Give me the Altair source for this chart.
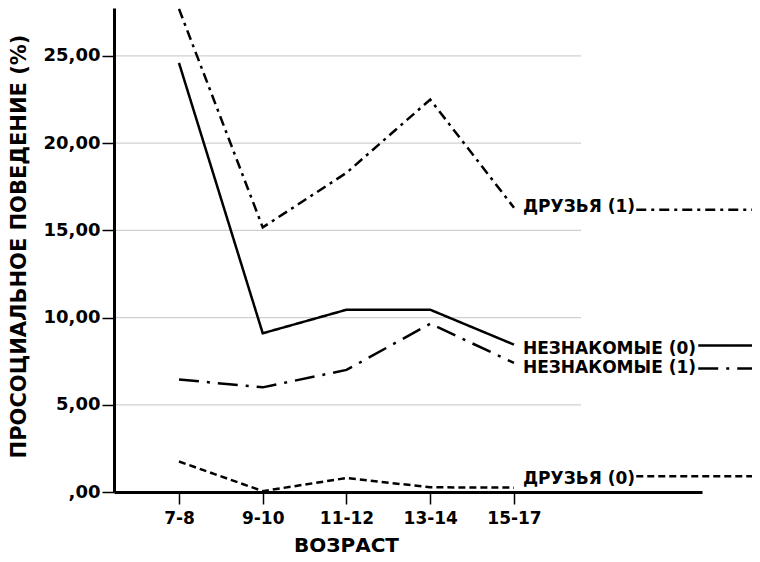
import json
import altair as alt
import pandas as pd

# ---- data ----
categories = ["7-8", "9-10", "11-12", "13-14", "15-17"]
strangers_0 = [24.6, 9.1, 10.45, 10.45, 8.45]
strangers_1 = [6.45, 6.0, 7.0, 9.65, 7.4]
friends_1 = [27.7, 15.17, 18.3, 22.5, 16.3]
friends_0 = [1.75, 0.05, 0.8, 0.27, 0.25]
series_names = ["НЕЗНАКОМЫЕ (0)", "НЕЗНАКОМЫЕ (1)", "ДРУЗЬЯ (1)", "ДРУЗЬЯ (0)"]
y_ticks = [0, 5, 10, 15, 20, 25]
grid_values = [5, 10, 15, 20, 25]

# ---- layout constants ----
FONT = "DejaVu Sans"
X_MIN, X_MAX = -0.776, 6.245
Y_MAX = 27.75
W, H = 588, 484
GRID_END = 4.8
LABEL_X = 4.107
label_y = [8.21, 7.09, 16.34, 0.76]
sample_y = [8.4, 7.08, 16.18, 0.9]
sample_x0 = [6.2, 6.2, 5.46, 5.46]
SAMPLE_X1 = 7.0
dashes = [[1, 0], [20, 8, 3, 8], [10, 5, 3, 5], [7, 4]]

rows = []
for name, vals in zip(series_names, [strangers_0, strangers_1, friends_1, friends_0]):
    for i, (c, v) in enumerate(zip(categories, vals)):
        rows.append({"series": name, "idx": i, "age": c, "value": v})
df = pd.DataFrame(rows)

grid_df = pd.DataFrame({"g": grid_values, "x0": X_MIN, "x1": GRID_END})
lab_df = pd.DataFrame({"series": series_names, "x": LABEL_X, "y": label_y})
samp_df = pd.DataFrame({"series": series_names, "x0": sample_x0,
                        "x1": SAMPLE_X1, "y": sample_y})

xscale = alt.Scale(domain=[X_MIN, X_MAX], nice=False, zero=False)
yscale = alt.Scale(domain=[0, Y_MAX], nice=False, zero=False)
dash_enc = alt.StrokeDash("series:N", legend=None,
                          scale=alt.Scale(domain=series_names, range=dashes))

X_TITLE = "ВОЗРАСТ"
Y_TITLE = "ПРОСОЦИАЛЬНОЕ ПОВЕДЕНИЕ (%)"

x_axis = alt.Axis(
    values=list(range(len(categories))),
    labelExpr=f"{json.dumps(categories, ensure_ascii=False)}[datum.value]",
    title=X_TITLE, grid=False, domainColor="black", domainWidth=3,
    tickColor="black", tickWidth=1.5, tickSize=12, labelPadding=6,
    labelFont=FONT, labelFontWeight="bold", labelFontSize=17, labelColor="black",
    titleFont=FONT, titleFontWeight="bold", titleFontSize=20, titleColor="black",
    titleX=232, titleY=59, titleAlign="center", titleBaseline="alphabetic",
    zindex=1,
)
y_axis = alt.Axis(
    values=y_ticks,
    labelExpr="datum.value == 0 ? ',00' : datum.value + ',00'",
    title=Y_TITLE, grid=False, domainColor="black",
    domainWidth=3, tickColor="black", tickWidth=1.5, tickSize=12, labelPadding=2,
    labelFont=FONT, labelFontWeight="bold", labelFontSize=18, labelColor="black",
    titleFont=FONT, titleFontWeight="bold", titleFontSize=21, titleColor="black",
    titlePadding=14, titleY=238, zindex=1,
)

grid = alt.Chart(grid_df).mark_rule(color="#d0d0d0", strokeWidth=1.2).encode(
    x=alt.X("x0:Q", scale=xscale, axis=x_axis, title=X_TITLE),
    x2="x1:Q",
    y=alt.Y("g:Q", scale=yscale, axis=y_axis, title=Y_TITLE),
)

lines = alt.Chart(df).mark_line(color="black", strokeWidth=2.5).encode(
    x=alt.X("idx:Q", scale=xscale, axis=x_axis, title=X_TITLE),
    y=alt.Y("value:Q", scale=yscale, axis=y_axis, title=Y_TITLE),
    strokeDash=dash_enc,
    detail="series:N",
)

samples = alt.Chart(samp_df).mark_rule(color="black", strokeWidth=2.5).encode(
    x=alt.X("x0:Q", scale=xscale, axis=x_axis, title=X_TITLE),
    x2="x1:Q",
    y=alt.Y("y:Q", scale=yscale, axis=y_axis, title=Y_TITLE),
    strokeDash=dash_enc,
)

labels = alt.Chart(lab_df).mark_text(
    align="left", baseline="middle", font=FONT, fontWeight="bold",
    fontSize=17, color="black",
).encode(
    x=alt.X("x:Q", scale=xscale, axis=x_axis, title=X_TITLE),
    y=alt.Y("y:Q", scale=yscale, axis=y_axis, title=Y_TITLE),
    text="series:N",
)

chart = alt.layer(grid, lines, samples, labels).properties(
    width=W, height=H,
    autosize=alt.AutoSizeParams(type="none"),
    padding={"left": 106, "top": 0, "right": 50, "bottom": 66},
).configure(background="white").configure_view(stroke=None)

chart.save("out.html", embed_options={"renderer": "svg", "actions": False})
